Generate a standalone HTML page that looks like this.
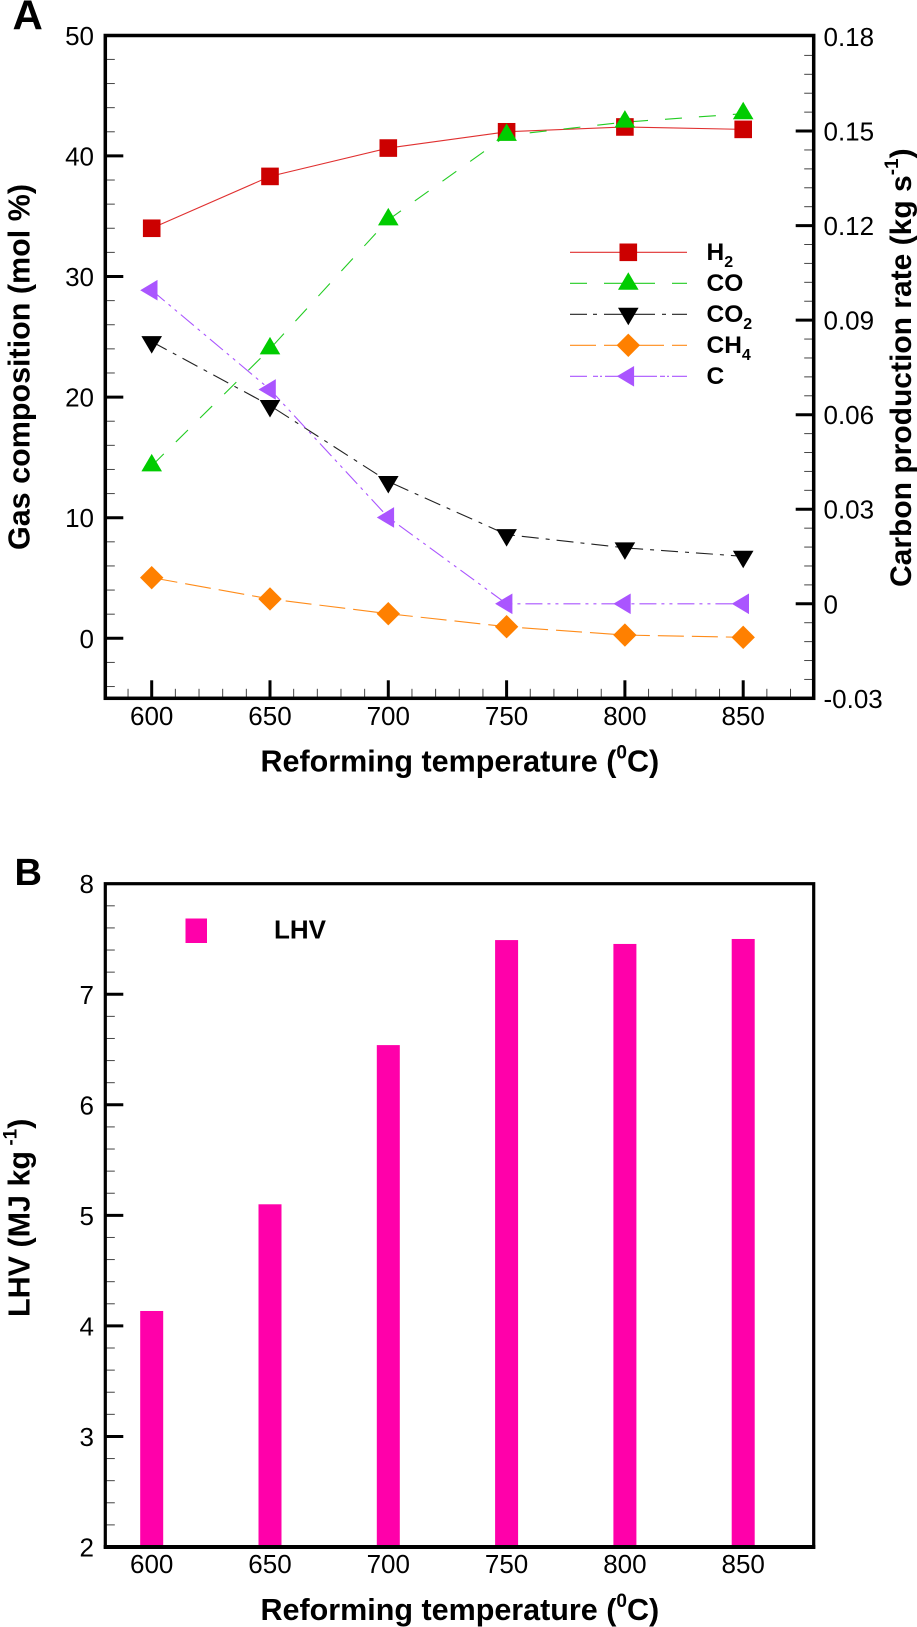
<!DOCTYPE html>
<html lang="en">
<head>
<meta charset="utf-8">
<title>Gas composition and LHV versus reforming temperature</title>
<style>
html,body{margin:0;padding:0;background:#fff;width:917px;height:1627px;overflow:hidden}
svg{display:block;font-family:"Liberation Sans",Arial,sans-serif}
.tick{font-size:26px;fill:#000}
.title{font-size:30.5px;font-weight:bold;fill:#000}
.leg{font-size:24.5px;font-weight:bold;fill:#000}
.panel{font-weight:bold;fill:#000}
</style>
</head>
<body>
<svg id="chart" xmlns="http://www.w3.org/2000/svg" width="917" height="1627" viewBox="0 0 917 1627">
  <rect x="0" y="0" width="917" height="1627" fill="#fff"/>
  <text class="panel" x="12.5" y="29.5" font-size="42">A</text>
  <text class="panel" x="14.5" y="885" font-size="38">B</text>

  <text class="title" x="260.5" y="771.5">Reforming temperature (<tspan font-size="19" dy="-13">0</tspan><tspan dy="13">C)</tspan></text>
  <text class="title" transform="translate(29.5,550) rotate(-90)" x="0" y="0">Gas composition (mol %)</text>
  <text class="title" transform="translate(911,587) rotate(-90)" x="0" y="0" style="font-size:30px">Carbon production rate (kg s<tspan font-size="19" dy="-13">-1</tspan><tspan dy="13">)</tspan></text>

  <text class="title" x="260.5" y="1620">Reforming temperature (<tspan font-size="19" dy="-13">0</tspan><tspan dy="13">C)</tspan></text>
  <text class="title" transform="translate(29.5,1317) rotate(-90)" x="0" y="0">LHV (MJ kg<tspan font-size="19" dy="-13"> -1</tspan><tspan dy="13">)</tspan></text>

  <g>
    <text class="leg" x="706.5" y="260">H<tspan font-size="16" dy="7">2</tspan></text>
    <text class="leg" x="706.5" y="291">CO</text>
    <text class="leg" x="706.5" y="322">CO<tspan font-size="16" dy="7">2</tspan></text>
    <text class="leg" x="706.5" y="353">CH<tspan font-size="16" dy="7">4</tspan></text>
    <text class="leg" x="706.5" y="384">C</text>
  </g>
  <g>
    <rect x="185.5" y="918.5" width="21.5" height="24.5" fill="#ff00aa"/>
    <text class="leg" x="274" y="938.5" style="font-size:26px">LHV</text>
  </g>
</svg>
<script>
// ---- data ----
const temperatures = [600, 650, 700, 750, 800, 850];
const h2Values  = [34.0, 38.3, 40.65, 42.0, 42.4, 42.2];
const coValues  = [14.3, 24.0, 34.7, 41.7, 42.8, 43.5];
const co2Values = [24.6, 19.3, 13.0, 8.6, 7.5, 6.8];
const ch4Values = [5.03, 3.26, 2.04, 0.96, 0.27, 0.08];
const carbonRateValues = [0.0995, 0.068, 0.0274, 0, 0, 0];
const lhvValues = [4.135, 5.10, 6.54, 7.49, 7.455, 7.5];
const xTickLabels = ['600', '650', '700', '750', '800', '850'];
const leftTickValuesA = [0, 10, 20, 30, 40, 50];
const rightTickValuesA = [-0.03, 0, 0.03, 0.06, 0.09, 0.12, 0.15, 0.18];
const rightTickLabelsA = ['-0.03', '0', '0.03', '0.06', '0.09', '0.12', '0.15', '0.18'];
const leftTickValuesB = [2, 3, 4, 5, 6, 7, 8];

// ---- axis functions ----
const L = 105.3, R = 813.7;
const xA = v => 151.7 + (v - 600) * 2.366;
const yA = v => 638.3 - v * 12.06;
const yRight = v => 603.8 - v * 3151.7;
const yB = v => 1547 - (v - 2) * 110.55;
const TOP_A = 35.5, BOT_A = 698.3, TOP_B = 883.7, BOT_B = 1547;

const svg = document.getElementById('chart');
const NS = 'http://www.w3.org/2000/svg';
function mk(tag, attrs, parent) {
  const e = document.createElementNS(NS, tag);
  for (const k in attrs) e.setAttribute(k, attrs[k]);
  (parent || svg).appendChild(e);
  return e;
}

// ---- panel A axes ----
const axesA = mk('g', {});


for (let v = -4; v < 50; v += 2) {
  const isMajor = v % 10 === 0;
  const t = mk('line', {x1: L, x2: L + (isMajor ? 18 : 9.5), y1: yA(v), y2: yA(v), stroke: isMajor ? '#000' : '#444', 'stroke-width': isMajor ? 3 : 1}, axesA);
  
  
}
for (let i = -4; i < 30; i++) {
  const v = i * 0.006;
  const isMajor = i % 5 === 0;
  const t = mk('line', {x1: R, x2: R - (isMajor ? 18 : 9.5), y1: yRight(v), y2: yRight(v), stroke: isMajor ? '#000' : '#444', 'stroke-width': isMajor ? 3 : 1}, axesA);
  
  
}
for (let v = 590; v <= 870; v += 10) {
  const isMajor = v % 50 === 0;
  const t = mk('line', {x1: xA(v), x2: xA(v), y1: BOT_A, y2: BOT_A - (isMajor ? 18 : 9.5), stroke: isMajor ? '#000' : '#444', 'stroke-width': isMajor ? 3 : 1}, axesA);
  
  
}
const frameA = mk('rect', {x: L, y: TOP_A, width: R - L, height: BOT_A - TOP_A, fill: 'none', stroke: '#000', 'stroke-width': 3.5}, axesA);



leftTickValuesA.forEach(v => {
  const t = mk('text', {class: 'tick', x: 94, y: yA(v) + 9.5, 'text-anchor': 'end'}, axesA);
  t.textContent = String(v);
  
  
});
rightTickValuesA.forEach((v, i) => {
  const t = mk('text', {class: 'tick', x: 823.5, y: yRight(v) + 9.5}, axesA);
  t.textContent = rightTickLabelsA[i];
  
  
});
temperatures.forEach((v, i) => {
  const t = mk('text', {class: 'tick', x: xA(v), y: 725, 'text-anchor': 'middle'}, axesA);
  t.textContent = xTickLabels[i];
  
  
});

// ---- markers ----
function drawMarker(kind, x, y, color, parent) {
  const pts = {
    up:   [[0,-12],[10.3,5.5],[-10.3,5.5]],
    down: [[-10.3,-5.5],[10.3,-5.5],[0,12]],
    left: [[-11.5,0],[5.8,-10.3],[5.8,10.3]],
    diamond: [[0,-11.7],[11.7,0],[0,11.7],[-11.7,0]]
  };
  if (kind === 'square') {
    return mk('rect', {x: x - 8.8, y: y - 8.8, width: 17.6, height: 17.6, fill: color}, parent);
  }
  return mk('polygon', {points: pts[kind].map(p => (x + p[0]) + ',' + (y + p[1])).join(' '), fill: color}, parent);
}

// ---- panel A series ----
const seriesH2  = {key: 'h2',  vals: h2Values,  y: yA, color: '#cc0000', line: '#e03030', dash: 'none', marker: 'square'};
const seriesCO  = {key: 'co',  vals: coValues,  y: yA, color: '#00cc00', line: '#22cc22', dash: '17 17', marker: 'up'};
const seriesCO2 = {key: 'co2', vals: co2Values, y: yA, color: '#000000', line: '#222222', dash: '17 7 4 7', marker: 'down'};
const seriesCH4 = {key: 'ch4', vals: ch4Values, y: yA, color: '#ff8000', line: '#ff8c1a', dash: '26 8', marker: 'diamond'};
const seriesC   = {key: 'c',   vals: carbonRateValues, y: yRight, color: '#aa55ff', line: '#aa55ff', dash: '17 5 3 5 3 5', marker: 'left'};
const allSeries = [seriesH2, seriesCO, seriesCO2, seriesCH4, seriesC];

allSeries.forEach(s => {
  const g = mk('g', {});
  
  
  const pl = mk('polyline', {
    points: s.vals.map((v, i) => xA(temperatures[i]) + ',' + s.y(v)).join(' '),
    fill: 'none', stroke: s.line, 'stroke-width': 1.1, 'stroke-dasharray': s.dash
  }, g);
  
  
});
allSeries.forEach(s => {
  const g = mk('g', {});
  
  
  s.vals.forEach((v, i) => {
    const m = drawMarker(s.marker, xA(temperatures[i]), s.y(v), s.color, g);
    
    
  });
});

// ---- panel A legend samples ----
const legendDash = {h2: 'none', co: '17 17 51 17 15', co2: '17 6 4 7 51 7 4 6 15', ch4: '26 8 60 8 15', c: '17 6 5 2 2 3 52 3 5 2 2 3 15'};
allSeries.forEach((s, i) => {
  const ly = 252.3 + i * 31;
  const l = mk('line', {x1: 570, x2: 687, y1: ly, y2: ly, stroke: s.line, 'stroke-width': 1.1, 'stroke-dasharray': legendDash[s.key]});
  
  
  const m = drawMarker(s.marker, 628.3, ly + (s.marker === 'up' ? 1 : s.marker === 'down' ? -1 : 0), s.color);
  
  
});

// ---- panel B ----
const axesB = mk('g', {});


for (let i = 1; i < 30; i++) {
  const v = 2 + i * 0.2;
  const isMajor = i % 5 === 0;
  const t = mk('line', {x1: L, x2: L + (isMajor ? 18 : 9.5), y1: yB(v), y2: yB(v), stroke: isMajor ? '#000' : '#444', 'stroke-width': isMajor ? 3 : 1}, axesB);
  
  
}
leftTickValuesB.forEach(v => {
  const t = mk('text', {class: 'tick', x: 94, y: yB(v) + 9.5, 'text-anchor': 'end'}, axesB);
  t.textContent = String(v);
  
  
});
temperatures.forEach((v, i) => {
  const t = mk('text', {class: 'tick', x: xA(v), y: 1573, 'text-anchor': 'middle'}, axesB);
  t.textContent = xTickLabels[i];
  
  
});
lhvValues.forEach((v, i) => {
  const b = mk('rect', {x: xA(temperatures[i]) - 11.5, y: yB(v), width: 23, height: BOT_B - yB(v), fill: '#ff00aa'});
  
  
});
const frameB = mk('rect', {x: L, y: TOP_B, width: R - L, height: BOT_B - TOP_B, fill: 'none', stroke: '#000', 'stroke-width': 3.2}, axesB);


const baseB = mk('line', {x1: L - 1.6, x2: R + 1.6, y1: BOT_B, y2: BOT_B, stroke: '#000', 'stroke-width': 4}, axesB);


svg.appendChild(axesB);
</script>
</body>
</html>
